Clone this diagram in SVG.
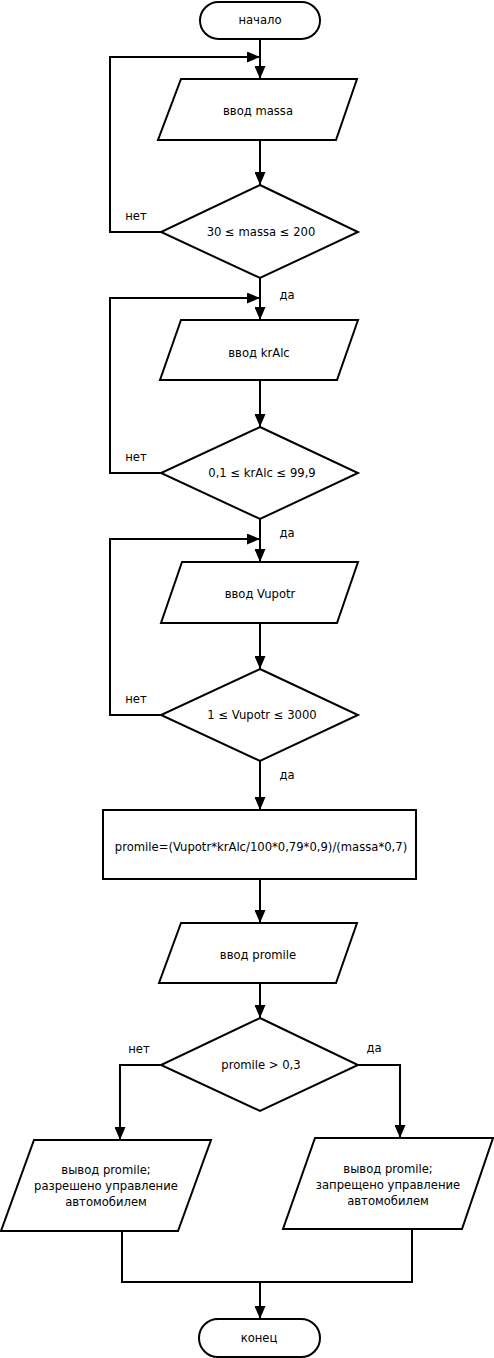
<svg xmlns="http://www.w3.org/2000/svg" width="494" height="1358" viewBox="0 0 494 1358">
<style>
.s{fill:#fff;stroke:#000;stroke-width:2}
.c{fill:none;stroke:#000;stroke-width:2;marker-end:url(#a)}
.n{fill:none;stroke:#000;stroke-width:2}
text{font-family:"DejaVu Sans",Verdana,sans-serif;font-size:11.6px;fill:#000;text-anchor:middle}
</style>
<defs>
<marker id="a" markerUnits="userSpaceOnUse" markerWidth="13" markerHeight="11" refX="13" refY="5.5" orient="auto">
<path d="M0,0 L13,5.5 L0,11 z" fill="#000"/>
</marker>
</defs>
<rect width="494" height="1358" fill="#fff"/>
<g id="connectors">
<path class="c" d="M260,39 V79"/>
<path class="c" d="M260,140 V185"/>
<path class="c" d="M161,232 H110 V57 H260"/>
<path class="c" d="M260,278 V320"/>
<path class="c" d="M161,473 H110 V298 H260"/>
<path class="c" d="M260,380 V427"/>
<path class="c" d="M260,519 V562"/>
<path class="c" d="M161,715 H110 V539 H260"/>
<path class="c" d="M260,623 V669"/>
<path class="c" d="M260,761 V810"/>
<path class="c" d="M260,879 V923"/>
<path class="c" d="M260,983 V1018"/>
<path class="c" d="M161,1065 H120 V1140"/>
<path class="c" d="M358,1065 H400 V1138"/>
<path class="n" d="M122,1231 V1282 H412 V1229"/>
<path class="c" d="M260,1282 V1319"/>
<text x="136" y="220">нет</text>
<text x="287" y="299">да</text>
<text x="136" y="461">нет</text>
<text x="287" y="537">да</text>
<text x="136" y="703">нет</text>
<text x="287" y="779">да</text>
<text x="139" y="1053">нет</text>
<text x="374" y="1052">да</text>
</g>
<g id="start"><rect class="s" x="200" y="2" width="120" height="37" rx="18.5"/><text x="260" y="24">начало</text></g>
<g id="in-massa"><polygon class="s" points="181,79 357,79 336,140 158,140"/><text x="258" y="115">ввод massa</text></g>
<g id="cond-massa"><polygon class="s" points="260,185 358,232 260,278 161,232"/><text x="261" y="236">30 ≤ massa ≤ 200</text></g>
<g id="in-kralc"><polygon class="s" points="181,320 358,320 337,380 160,380"/><text x="259" y="357">ввод krAlc</text></g>
<g id="cond-kralc"><polygon class="s" points="260,427 358,473 260,519 161,473"/><text x="262" y="477">0,1 ≤ krAlc ≤ 99,9</text></g>
<g id="in-vupotr"><polygon class="s" points="182,562 358,562 337,623 161,623"/><text x="260" y="598">ввод Vupotr</text></g>
<g id="cond-vupotr"><polygon class="s" points="260,669 358,715 260,761 161,715"/><text x="262" y="719">1 ≤ Vupotr ≤ 3000</text></g>
<g id="calc"><rect class="s" x="103" y="810" width="313" height="69"/><text x="261" y="851">promile=(Vupotr*krAlc/100*0,79*0,9)/(massa*0,7)</text></g>
<g id="in-promile"><polygon class="s" points="181,923 357,923 336,983 159,983"/><text x="258" y="959">ввод promile</text></g>
<g id="cond-promile"><polygon class="s" points="260,1018 358,1065 260,1111 161,1065"/><text x="261" y="1069">promile &gt; 0,3</text></g>
<g id="out-allowed"><polygon class="s" points="34,1140 211,1140 178,1231 1,1231"/><text x="106" y="1174">вывод promile;</text><text x="106" y="1190">разрешено управление</text><text x="106" y="1206">автомобилем</text></g>
<g id="out-denied"><polygon class="s" points="315,1138 493,1138 462,1229 283,1229"/><text x="388" y="1173">вывод promile;</text><text x="388" y="1189">запрещено управление</text><text x="388" y="1205">автомобилем</text></g>
<g id="end"><rect class="s" x="199" y="1319" width="121" height="38" rx="19"/><text x="259" y="1342">конец</text></g>
</svg>
